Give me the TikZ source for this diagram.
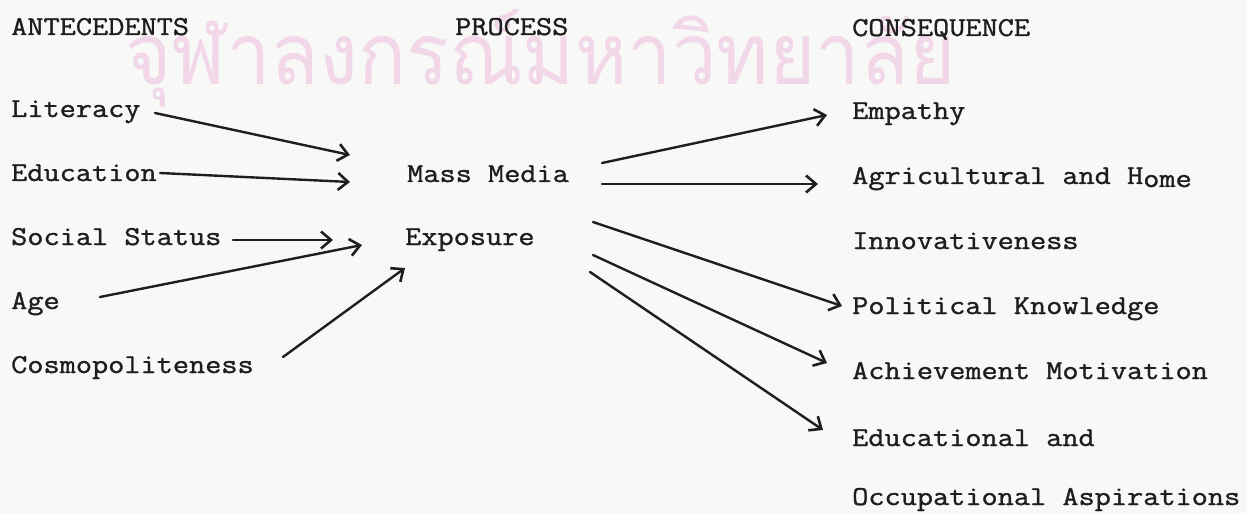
\documentclass[tikz,border=0pt]{standalone}
\usepackage{fontspec}
\usepackage{graphicx}
\setmonofont{Latin Modern Mono}[FakeStretch=1.15,FakeBold=1.2]
\newfontfamily\thaifont[Script=Thai]{Loma}
\usetikzlibrary{arrows.meta}
\definecolor{ink}{RGB}{30,30,30}
\definecolor{paper}{RGB}{248,248,246}
\definecolor{wmark}{RGB}{242,215,232}
\tikzset{
  lbl/.style={anchor=base west, inner sep=0pt, text=ink, font=\ttfamily\fontsize{27.3}{30}\selectfont},
  arr/.style={draw=ink, line width=2.4pt, line cap=round, -{Straight Barb[length=10pt,width=17pt,line width=2.6pt]}}
}
\begin{document}
\begin{tikzpicture}[x=1pt,y=-1pt]
\fill[paper] (0,0) rectangle (1247,513);
\useasboundingbox (0,0) rectangle (1247,513);
% watermark
\node[anchor=base west, inner sep=0pt, text=wmark] (wm) at (125,85)
  {\resizebox{830pt}{75pt}{\thaifont จุฬาลงกรณ์มหาวิทยาลัย}};
% headers
\node[lbl] (hA) at (11,35) {ANTECEDENTS};
\node[lbl] (hP) at (455,35) {PROCESS};
\node[lbl] (hC) at (852,36) {CONSEQUENCE};
% antecedents
\node[lbl] (lit) at (11,117) {Literacy};
\node[lbl] (edu) at (11,181) {Education};
\node[lbl] (soc) at (11,245) {Social Status};
\node[lbl] (age) at (11,309) {Age};
\node[lbl] (cos) at (11,373) {Cosmopoliteness};
% process
\node[lbl] (mm) at (407,182) {Mass Media};
\node[lbl] (exp) at (405,245) {Exposure};
% consequences
\node[lbl] (emp) at (852,119) {Empathy};
\node[lbl] (agr) at (852,184) {Agricultural and H\raisebox{-3pt}{ome}};
\node[lbl] (inn) at (852,249) {Innovativeness};
\node[lbl] (pol) at (852,314) {Political Knowledge};
\node[lbl] (ach) at (852,379) {Achievement Motivation};
\node[lbl] (eda) at (852,446) {Educational and};
\node[lbl] (occ) at (852,505) {Occupational Aspirations};
% connector ends
\coordinate (litS) at (155,113); \coordinate (litT) at (350,155);
\coordinate (eduS) at (160,173); \coordinate (eduT) at (350,182);
\coordinate (socS) at (233,240); \coordinate (socT) at (333,240);
\coordinate (ageS) at (100,297); \coordinate (ageT) at (362,245);
\coordinate (cosS) at (283,357); \coordinate (cosT) at (405,268);
\coordinate (empS) at (602,163); \coordinate (empT) at (827,115);
\coordinate (agrS) at (602,184); \coordinate (agrT) at (818,184);
\coordinate (polS) at (593,222); \coordinate (polT) at (842,306);
\coordinate (achS) at (593,255); \coordinate (achT) at (827,363);
\coordinate (edaS) at (590,272); \coordinate (edaT) at (823,430);
% connectors
\draw[arr] (litS) -- (litT);
\draw[arr] (eduS) -- (eduT);
\draw[arr] (socS) -- (socT);
\draw[arr] (ageS) -- (ageT);
\draw[arr] (cosS) -- (cosT);
\draw[arr] (empS) -- (empT);
\draw[arr] (agrS) -- (agrT);
\draw[arr] (polS) -- (polT);
\draw[arr] (achS) -- (achT);
\draw[arr] (edaS) -- (edaT);
\end{tikzpicture}
\end{document}
